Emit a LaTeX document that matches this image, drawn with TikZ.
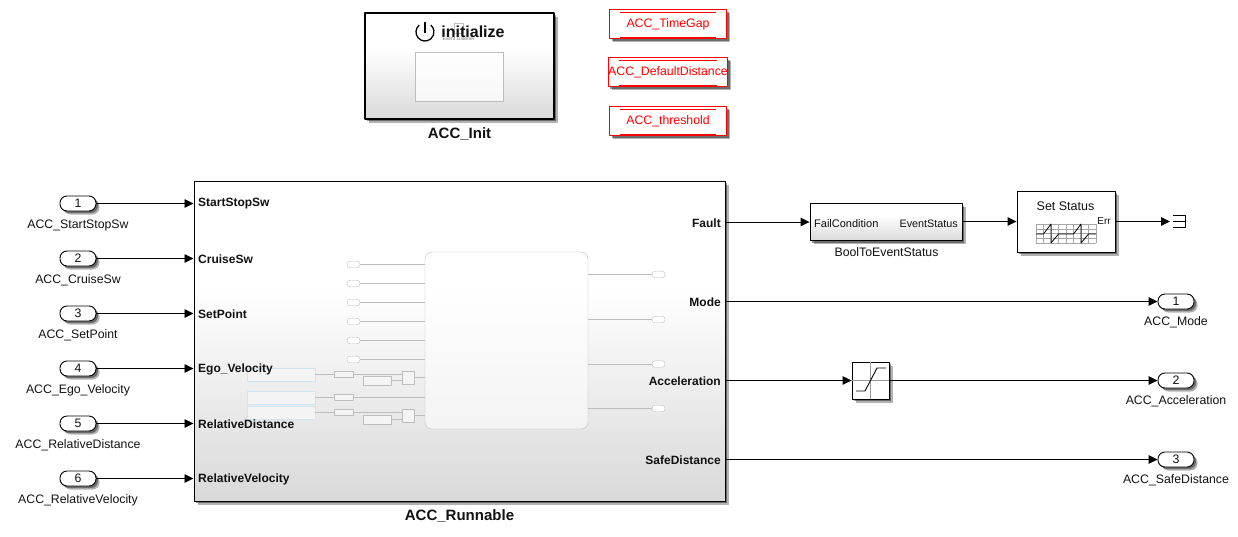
\documentclass[tikz,border=0pt]{standalone}
\usepackage{xcolor}
\usepackage{fontspec}
\setmainfont{Liberation Sans}
\usetikzlibrary{arrows.meta,shadows}
\definecolor{ink}{HTML}{111111}
\definecolor{faint}{HTML}{BDBDBD}
\definecolor{pane}{HTML}{F4F4F4}
\definecolor{paleblue}{HTML}{CFE6F2}
\pgfdeclareverticalshading{blockfade}{100bp}{color(0bp)=(black!15);color(25bp)=(black!15);color(58bp)=(white);color(100bp)=(white)}
\tikzset{
  fig/.style={line join=round,x=1pt,y=-1pt,font=\fontsize{12.3}{14}\selectfont,text=ink},
  dropped/.style={drop shadow={draw=none,shadow xshift=3.5pt,shadow yshift=-3.5pt,opacity=.3,fill=black},
    drop shadow={draw=none,shadow xshift=2pt,shadow yshift=-2pt,opacity=.4,fill=black}},
  sig/.style={draw=black,line width=.9pt,-{Triangle[length=9pt,width=8.5pt]}},
  pill/.style={draw=black,line width=.9pt,fill=white,rounded corners=7pt,minimum width=36pt,minimum height=15pt,inner sep=0pt,dropped},
  fpill/.style={draw=faint,fill=white,rounded corners=3pt,minimum width=13pt,minimum height=6.5pt,inner sep=0pt},
  fbox/.style={draw=faint,fill=pane,inner sep=0pt},
  blue/.style={draw=paleblue,fill=pane,inner sep=0pt,minimum width=68pt,minimum height=13pt},
  fline/.style={draw=faint,line width=.7pt},
  param/.style={draw=red,line width=.9pt,fill=white,text=red,minimum width=117pt,minimum height=29pt,inner sep=0pt,dropped},
  port/.style={font=\fontsize{12}{14}\selectfont\bfseries,inner sep=0pt},
  title/.style={font=\fontsize{15}{17}\selectfont\bfseries,inner sep=0pt},
  lab/.style={inner sep=0pt}
}
\newcommand{\paramLines}[1]{\draw[red,line width=.7pt]([shift={(11pt,-3pt)}]#1.north west)--([shift={(-11pt,-3pt)}]#1.north east);
  \draw[red,line width=.7pt]([shift={(11pt,2pt)}]#1.south west)--([shift={(-11pt,2pt)}]#1.south east);}
\begin{document}
\begin{tikzpicture}[fig]
  \useasboundingbox(0,0)rectangle(1238,536);
  % init block and parameters
  \node[draw=black,line width=2.2pt,shading=blockfade,minimum width=189pt,minimum height=106pt,inner sep=0pt,dropped](init)at(459.5,66){};
  \node[fbox,draw=faint,fill=white,fill opacity=.75,minimum width=88pt,minimum height=49pt](initpane)at(459,76.5){};
  \draw[black,line width=1.3pt](419.2,25.1)arc[start angle=-50,end angle=230,radius=-9pt];
  \draw[black,line width=1.3pt](425,22)--(425,33);
  \node[draw=faint,minimum width=9.5pt,minimum height=10pt,inner sep=0pt](evbox)at(458.7,28){};
  \node[font=\fontsize{16}{18}\selectfont\bfseries,inner sep=0pt](initname)at(473,32){initialize};
  \node[font=\fontsize{5}{6}\selectfont,text=black!55,inner sep=0pt](evname)at(458.5,38.5){Event Listener};
  \node[title](initlab)at(459.5,133.5){ACC\_Init};
  \node[param](tgap)at(668,24){\raisebox{-.5pt}{ACC\_TimeGap}};\paramLines{tgap}
  \node[param](dist)at(668,72){\raisebox{-.5pt}{ACC\_DefaultDistance}};\paramLines{dist}
  \node[param](thresh)at(668,121){\raisebox{-.5pt}{ACC\_threshold}};\paramLines{thresh}
  % runnable with its faded contents
  \node[draw=black,line width=1pt,shading=blockfade,minimum width=531pt,minimum height=320pt,inner sep=0pt,dropped](run)at(459.5,341){};
  \node[draw=faint,fill=white,fill opacity=.55,rounded corners=7pt,minimum width=163pt,minimum height=177pt,inner sep=0pt](core)at(506.5,340.5){};
  \foreach\i/\y in {1/264.5,2/283.5,3/302.5,4/321.5,5/340.5,6/359.5}{
    \node[fpill](ci\i)at(353.5,\y){};
    \draw[fline](ci\i)--(ci\i-|core.west);}
  \foreach\i/\y in {1/274.5,2/319.5,3/364,4/408.5}{
    \node[fpill](co\i)at(658.5,\y){};
    \draw[fline](co\i-|core.east)--(co\i);}
  \node[blue](ba)at(281,374.5){};
  \node[blue](bb)at(281,397.5){};
  \node[blue](bc)at(281,412.5){};
  \node[fbox,minimum width=19pt,minimum height=6pt](da)at(343.5,374.5){};
  \node[fbox,minimum width=19pt,minimum height=6pt](db)at(343.5,397.5){};
  \node[fbox,minimum width=19pt,minimum height=6pt](dc)at(343.5,412.5){};
  \node[fbox,minimum width=28pt,minimum height=9pt](ra)at(377,380.5){};
  \node[fbox,minimum width=28pt,minimum height=9pt](rc)at(377,419.5){};
  \node[fbox,minimum width=12.5pt,minimum height=13.5pt](sa)at(408.3,377.8){};
  \node[fbox,minimum width=12.5pt,minimum height=13.5pt](sc)at(408.3,415.8){};
  \draw[fline](ba)--(da);\draw[fline](da)--(da-|sa.west);\draw[fline](ra)--(ra-|sa.west);\draw[fline](sa)--(sa-|core.west);
  \draw[fline](bb)--(db);\draw[fline](db)--(db-|core.west);
  \draw[fline](bc)--(dc);\draw[fline](dc)--(dc-|sc.west);\draw[fline](rc)--(rc-|sc.west);\draw[fline](sc)--(sc-|core.west);
  \node[title](runlab)at(459.5,515.5){ACC\_Runnable};
  % inports
  \foreach\i/\y/\nm/\pn in {1/203.5/ACC\_StartStopSw/StartStopSw,2/258.5/ACC\_CruiseSw/CruiseSw,3/313.5/ACC\_SetPoint/SetPoint,4/368.5/ACC\_Ego\_Velocity/Ego\_Velocity,5/423.5/ACC\_RelativeDistance/RelativeDistance,6/478.5/ACC\_RelativeVelocity/RelativeVelocity}{
    \node[pill](in\i)at(78,\y){\i};
    \node[lab](inlab\i)at(78,\y+21.5){\nm};
    \node[port,anchor=west](pt\i)at(198,\y+.5){\pn};
    \draw[sig](in\i)--(in\i-|run.west);}
  % outports
  \foreach\i/\y/\nm in {1/301.5/ACC\_Mode,2/380.5/ACC\_Acceleration,3/459.5/ACC\_SafeDistance}{
    \node[pill](out\i)at(1176,\y){\i};
    \node[lab](outlab\i)at(1176,\y+21){\nm};}
  \node[port,anchor=east](ptFault)at(721,223){Fault};
  \node[port,anchor=east](ptMode)at(721,302){Mode};
  \node[port,anchor=east](ptAccel)at(721,381){Acceleration};
  \node[port,anchor=east](ptSafe)at(721,460.5){SafeDistance};
  % fault path
  \node[draw=black,line width=.9pt,shading=blockfade,minimum width=152pt,minimum height=37pt,inner sep=0pt,dropped](bool)at(886,222){};
  \node[lab,anchor=west,font=\fontsize{11}{13}\selectfont](boolin)at(814,223.5){FailCondition};
  \node[lab,anchor=east,font=\fontsize{10.8}{13}\selectfont](boolout)at(958,223.5){EventStatus};
  \node[lab](boollab)at(886.5,252.5){BoolToEventStatus};
  \node[draw=black,line width=.9pt,fill=white,minimum width=98pt,minimum height=61pt,inner sep=0pt,dropped](stat)at(1066,221.5){};
  \node[lab,font=\fontsize{12.5}{14}\selectfont](statname)at(1065.5,206){Set Status};
  \node[lab,anchor=east,font=\fontsize{10}{12}\selectfont](staterr)at(1111,221.5){Err};
  \foreach\gx in {0,...,8}{\draw[black!35,line width=.5pt](1036+7.5*\gx,224)--(1036+7.5*\gx,243);}
  \foreach\gy in {0,...,4}{\draw[black!35,line width=.5pt](1036,224+4.75*\gy)--(1096,224+4.75*\gy);}
  \draw[black,line width=.8pt](1036,234)--(1043.5,234)--(1051,224)--(1051,243)--(1058.5,234)--(1073.5,234)--(1081,224)--(1081,243)--(1088.5,234)--(1096,234);
  \coordinate(term)at(1170,221.5);
  \draw[black,line width=.9pt](1172.5,215)--(1185.5,215)--(1185.5,227.5)--(1172.5,227.5)(1172.5,221.5)--(1185.5,221.5);
  \draw[sig](run.east|-bool)--(bool.west);
  \draw[sig](bool.east|-stat)--(stat.west);
  \draw[sig](stat.east)--(term);
  % saturation
  \node[draw=black,line width=.9pt,fill=white,minimum width=37pt,minimum height=37pt,inner sep=0pt,dropped](sat)at(870.5,380.5){};
  \draw[black!40,line width=.6pt](sat.north)--(sat.south)(sat.west)--(sat.east);
  \draw[black,line width=.9pt](856,391)--(865,391)--(877,368)--(886,368);
  \draw[sig](run.east|-out1)--(out1);
  \draw[sig](run.east|-out2)--(sat.west);
  \draw[sig](sat)--(out2);
  \draw[sig](run.east|-out3)--(out3);
\end{tikzpicture}
\end{document}
